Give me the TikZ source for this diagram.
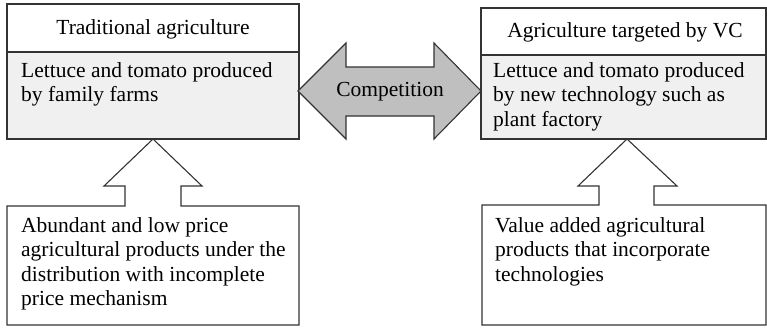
\documentclass[tikz,border=0pt]{standalone}
\usepackage{fontspec}
\setmainfont{Liberation Serif}
\begin{document}
\begin{tikzpicture}[x=1pt,y=-1pt,
  ln/.style={draw=black!80, line width=1.1pt, line join=miter},
  txt/.style={inner sep=0pt, align=left, anchor=north west, font=\fontsize{21.5}{24.5}\selectfont},
  hdr/.style={inner sep=0pt, font=\fontsize{21.5}{24}\selectfont}]
\useasboundingbox (0,0) rectangle (767,327);
% top left box
\path[ln, fill=black!6] (7,52) rectangle (299,139);
\path[ln] (7,4) rectangle (299,52);
\node[hdr] (lh) at (153,29) {Traditional agriculture};
\node[txt] (lb) at (21,62) {Lettuce and tomato produced\\by family farms};
% top right box
\path[ln, fill=black!6] (481,55) rectangle (766,139);
\path[ln] (481,8) rectangle (766,55);
\node[hdr] (rh) at (625,32) {Agriculture targeted by VC};
\node[txt] (rb) at (493,62) {Lettuce and tomato produced\\by new technology such as\\plant factory};
% double arrow
\path[ln, fill=black!25] (298,91) -- (346,43) -- (346,67) -- (434,67) -- (434,43) -- (481,91) -- (434,139) -- (434,116) -- (346,116) -- (346,139) -- cycle;
\node[hdr] (comp) at (390,92) {Competition};
% bottom left box with up arrow
\path[ln] (125,206) -- (125,186) -- (104,186) -- (153,139) -- (202,186) -- (181,186) -- (181,206)
  -- (299,206) -- (299,325) -- (7,325) -- (7,206) -- cycle;
\node[txt] (lt) at (21,217) {Abundant and low price\\agricultural products under the\\distribution with incomplete\\price mechanism};
% bottom right box with up arrow
\path[ln] (599,205) -- (599,186) -- (578,186) -- (627,139) -- (677,186) -- (654,186) -- (654,205)
  -- (766,205) -- (766,325) -- (482,325) -- (482,205) -- cycle;
\node[txt] (rt) at (495,217) {Value added agricultural\\products that incorporate\\technologies};
\end{tikzpicture}
\end{document}
